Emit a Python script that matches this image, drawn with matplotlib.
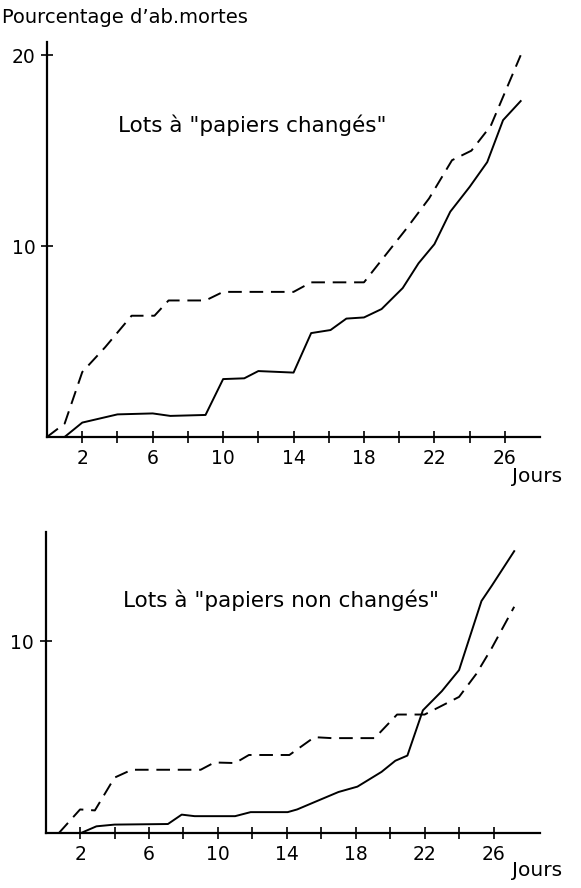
import matplotlib
matplotlib.use('Agg')
import matplotlib.pyplot as plt

# Lots "papiers changés" (haut)
top_solid_days = [1.0, 2, 4, 6, 7, 9, 10, 11.2, 12, 14, 15, 16.1, 17, 18, 19, 20.2, 21.1, 22, 22.9, 24, 25, 25.9, 26.9]
top_solid_pct = [0, 0.75, 1.18, 1.23, 1.1, 1.15, 3.03, 3.07, 3.45, 3.37, 5.44, 5.6, 6.2, 6.26, 6.7, 7.8, 9.1, 10.1, 11.8, 13.1, 14.4, 16.6, 17.6]

top_dash_days = [0, 1, 2, 3.3, 4.8, 6.1, 6.9, 9, 10, 14, 15, 18, 20.4, 21.7, 23, 24.1, 25.2, 26.9]
top_dash_pct = [0, 0.7, 3.4, 4.7, 6.35, 6.35, 7.15, 7.15, 7.6, 7.6, 8.1, 8.1, 10.9, 12.5, 14.5, 15.0, 16.3, 20.0]

# Lots "papiers non changés" (bas)
bot_solid_days = [2.05, 2.95, 4, 7.1, 7.9, 8.65, 11, 11.9, 14.05, 14.6, 15.6, 17, 18.1, 19.5, 20.3, 21, 21.9, 23, 24, 25.3, 25.9, 27.2]
bot_solid_pct = [0, 0.35, 0.44, 0.47, 0.96, 0.88, 0.88, 1.09, 1.09, 1.23, 1.61, 2.14, 2.42, 3.19, 3.77, 4.04, 6.4, 7.4, 8.5, 12.1, 12.9, 14.7]

bot_dash_days = [0.77, 2, 2.86, 4, 5, 9, 9.8, 11, 11.8, 14.15, 15.6, 16.6, 19.1, 20.4, 22, 24, 25, 25.9, 27.2]
bot_dash_pct = [0, 1.23, 1.18, 2.89, 3.3, 3.3, 3.68, 3.65, 4.07, 4.07, 5.0, 4.95, 4.95, 6.18, 6.18, 7.1, 8.3, 9.65, 11.8]

x_ticks = list(range(2, 27, 2))
x_labels = [str(d) if (d - 2) % 4 == 0 else '' for d in x_ticks]

FS = 13.5


def style_axes(ax, xmax, ymax, yticks):
    ax.set_xlim(0, xmax)
    ax.set_ylim(0, ymax)
    for side in ('top', 'right'):
        ax.spines[side].set_visible(False)
    for side in ('left', 'bottom'):
        ax.spines[side].set_linewidth(1.6)
    ax.set_xticks(x_ticks)
    ax.set_xticklabels(x_labels, fontsize=FS)
    ax.set_yticks(yticks)
    ax.set_yticklabels([str(v) for v in yticks], fontsize=FS)
    ax.tick_params(direction='inout', length=9, width=1.2, pad=4)
    ax.patch.set_alpha(0)


fig = plt.figure(figsize=(5.81, 8.88), dpi=100)

ax1 = fig.add_axes([0.081, 0.508, 0.8485, 0.4448])
ax1.plot(top_solid_days, top_solid_pct, color='black', lw=1.4)
ax1.plot(top_dash_days, top_dash_pct, color='black', lw=1.4, linestyle=(0, (7, 4)))
style_axes(ax1, 28, 20.7, [10, 20])

ax2 = fig.add_axes([0.0785, 0.0619, 0.851, 0.339])
ax2.plot(bot_solid_days, bot_solid_pct, color='black', lw=1.4)
ax2.plot(bot_dash_days, bot_dash_pct, color='black', lw=1.4, linestyle=(0, (7, 4)))
style_axes(ax2, 28.7, 15.7, [10])

fig.text(0.003, 0.980, "Pourcentage d’ab.mortes", fontsize=14, va='center', ha='left')
fig.text(0.434, 0.859, 'Lots à "papiers changés"', fontsize=15.5, va='center', ha='center')
fig.text(0.484, 0.324, 'Lots à "papiers non changés"', fontsize=15.5, va='center', ha='center')
fig.text(0.924, 0.463, 'Jours', fontsize=14.5, va='center', ha='center')
fig.text(0.924, 0.020, 'Jours', fontsize=14.5, va='center', ha='center')

fig.savefig('out.png', dpi=100, facecolor='white')
